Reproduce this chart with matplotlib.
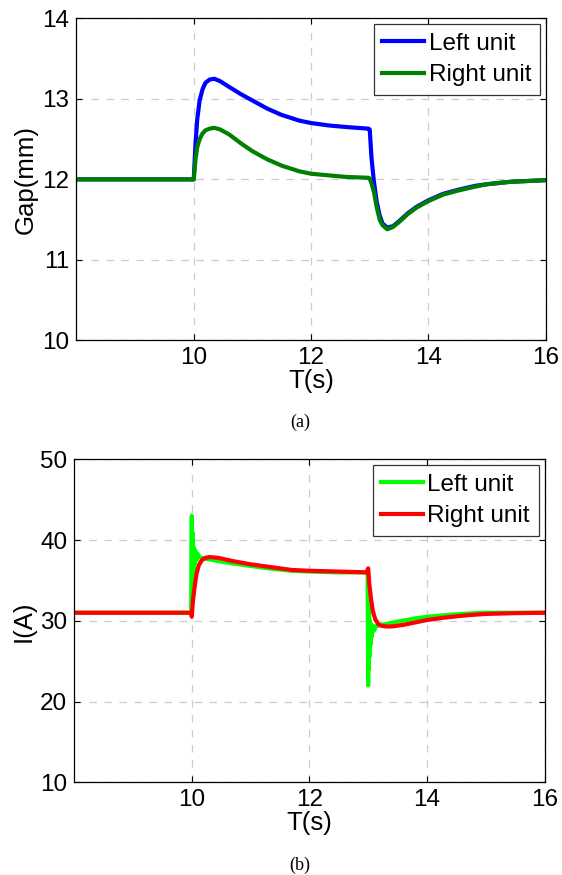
import matplotlib.pyplot as plt

plt.rcParams['font.family'] = ['Liberation Sans', 'DejaVu Sans']

# Panel (a): air gap
t_gap_left = [8, 10, 10.03, 10.06, 10.1, 10.15, 10.2, 10.27, 10.35, 10.45, 10.6, 10.8, 11.0, 11.25, 11.5,
              11.8, 12.0, 12.3, 12.6, 12.98, 13.0, 13.03, 13.07, 13.12, 13.17, 13.22, 13.3, 13.4, 13.5, 13.65,
              13.8, 14.0, 14.25, 14.5, 14.8, 15.0, 15.4, 16]
gap_left = [12.0, 12.0, 12.45, 12.75, 12.98, 13.12, 13.2, 13.24, 13.25, 13.22, 13.15, 13.06, 12.98, 12.88, 12.8,
            12.73, 12.7, 12.67, 12.65, 12.63, 12.62, 12.27, 11.98, 11.72, 11.55, 11.45, 11.4, 11.42, 11.48, 11.58,
            11.66, 11.74, 11.82, 11.87, 11.92, 11.94, 11.97, 11.99]
t_gap_right = [8, 10, 10.03, 10.06, 10.1, 10.15, 10.2, 10.27, 10.35, 10.45, 10.6, 10.8, 11.0, 11.25, 11.5,
               11.8, 12.0, 12.3, 12.6, 12.98, 13.0, 13.03, 13.07, 13.12, 13.17, 13.22, 13.3, 13.4, 13.5, 13.65,
               13.8, 14.0, 14.25, 14.5, 14.8, 15.0, 15.4, 16]
gap_right = [12.0, 12.0, 12.25, 12.4, 12.5, 12.57, 12.61, 12.63, 12.64, 12.62, 12.56, 12.45, 12.35, 12.25, 12.17,
             12.1, 12.07, 12.05, 12.03, 12.02, 12.01, 11.95, 11.85, 11.65, 11.5, 11.43, 11.38, 11.41, 11.47, 11.57,
             11.65, 11.73, 11.81, 11.86, 11.91, 11.94, 11.97, 11.99]

# Panel (b): coil current
t_cur_left = [8, 9.99, 10.0, 10.005, 10.01, 10.015, 10.02, 10.03, 10.04, 10.05, 10.06, 10.08, 10.1, 10.13, 10.17,
              10.22, 10.3, 10.45, 10.7, 11.0, 11.3, 11.7, 12.0, 12.5, 12.97, 12.99, 13.0, 13.005, 13.01, 13.015,
              13.02, 13.03, 13.04, 13.05, 13.06, 13.08, 13.1, 13.13, 13.17, 13.22, 13.3, 13.5, 13.8, 14.0, 14.3,
              14.7, 15.0, 15.5, 16]
cur_left = [31.0, 31.0, 43.0, 33.0, 41.0, 35.0, 40.0, 36.0, 39.0, 37.0, 38.7, 37.5, 38.3, 37.9, 37.8,
            37.7, 37.6, 37.4, 37.1, 36.8, 36.5, 36.2, 36.1, 36.0, 36.0, 36.0, 22.0, 33.0, 24.0, 31.0,
            25.5, 30.0, 27.0, 29.5, 28.0, 29.4, 28.8, 29.3, 29.4, 29.5, 29.6, 29.9, 30.3, 30.5, 30.7,
            30.9, 31.0, 31.0, 31.0]
t_cur_right = [8, 9.99, 10.0, 10.02, 10.05, 10.08, 10.12, 10.17, 10.23, 10.3, 10.45, 10.7, 11.0, 11.3, 11.7,
               12.0, 12.5, 12.97, 13.0, 13.02, 13.05, 13.08, 13.12, 13.17, 13.22, 13.3, 13.4, 13.6, 13.8, 14.0,
               14.3, 14.7, 15.0, 15.5, 16]
cur_right = [31.0, 31.0, 30.5, 32.5, 34.3, 35.8, 36.9, 37.5, 37.8, 37.9, 37.8, 37.4, 37.0, 36.7, 36.3,
             36.2, 36.1, 36.0, 36.5, 34.5, 32.6, 31.2, 30.2, 29.6, 29.4, 29.3, 29.3, 29.5, 29.8, 30.1,
             30.4, 30.7, 30.85, 30.95, 31.0]

x_ticks = [10, 12, 14, 16]
gap_ticks = [10, 11, 12, 13, 14]
cur_ticks = [10, 20, 30, 40, 50]

fig = plt.figure(figsize=(5.62, 8.75), dpi=100)
ax1 = fig.add_axes([0.136, 0.611, 0.835, 0.368])
ax2 = fig.add_axes([0.132, 0.106, 0.837, 0.369])


def style(ax, yticks, ylabel):
    ax.set_xlim(8, 16)
    ax.set_ylim(yticks[0], yticks[-1])
    ax.set_xticks(x_ticks)
    ax.set_yticks(yticks)
    ax.tick_params(direction='in', top=True, right=True, labelsize=17.5, length=4, width=0.8, pad=5)
    ax.grid(True, color='#cccccc', linestyle=(0, (6, 6)), linewidth=0.9)
    ax.set_xlabel('T(s)', fontsize=18.5, labelpad=0)
    ax.set_ylabel(ylabel, fontsize=18.5, labelpad=3)
    for s in ax.spines.values():
        s.set_linewidth(0.9)
    leg = ax.legend(loc='upper right', fontsize=17.5, frameon=True, fancybox=False, handlelength=1.7,
                    handletextpad=0.2, borderpad=0.35, labelspacing=0.38, borderaxespad=0.25)
    leg.get_frame().set_edgecolor('black')
    leg.get_frame().set_linewidth(0.9)


ax1.plot(t_gap_left, gap_left, color='#0000ff', lw=3, label='Left unit')
ax1.plot(t_gap_right, gap_right, color='#008000', lw=3, label='Right unit')
style(ax1, gap_ticks, 'Gap(mm)')

ax2.plot(t_cur_left, cur_left, color='#00ff00', lw=3, label='Left unit')
ax2.plot(t_cur_right, cur_right, color='#ff0000', lw=3, label='Right unit')
style(ax2, cur_ticks, 'I(A)')

fig.text(0.534, 0.517, '(a)', ha='center', va='center', fontsize=13, family='Liberation Serif')
fig.text(0.534, 0.011, '(b)', ha='center', va='center', fontsize=13, family='Liberation Serif')

fig.savefig('out.png', dpi=100)
